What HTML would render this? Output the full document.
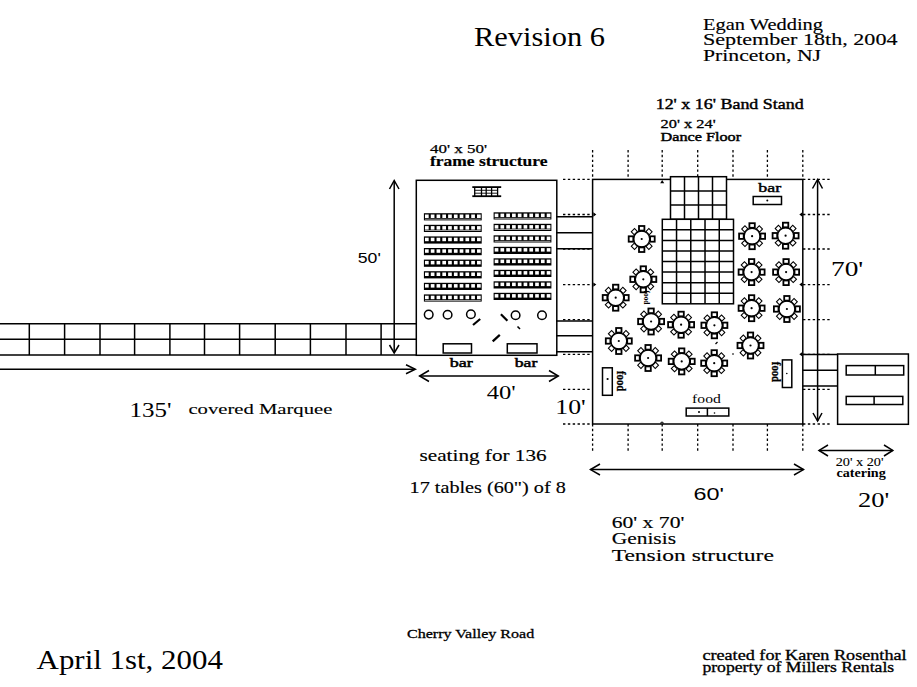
<!DOCTYPE html>
<html><head><meta charset="utf-8"><style>
html,body{margin:0;padding:0;background:#fff;}
body{width:917px;height:687px;overflow:hidden;}
svg{display:block;}
.s{stroke:#000;stroke-width:1.5;fill:none;}
.t{stroke:#000;stroke-width:1.1;fill:none;}
.f0{fill:#fff;}
.d{stroke:#000;stroke-width:1.3;stroke-dasharray:2.4 2.45;fill:none;}
text{fill:#000;}
</style></head><body>
<svg width="917" height="687" viewBox="0 0 917 687">
<line x1="0" y1="323.7" x2="416" y2="323.7" class="s"/>
<line x1="0" y1="339.3" x2="416" y2="339.3" class="s"/>
<line x1="0" y1="355.1" x2="416" y2="355.1" class="s"/>
<line x1="29.3" y1="323.7" x2="29.3" y2="355.1" class="s"/>
<line x1="64.6" y1="323.7" x2="64.6" y2="355.1" class="s"/>
<line x1="100" y1="323.7" x2="100" y2="355.1" class="s"/>
<line x1="134.6" y1="323.7" x2="134.6" y2="355.1" class="s"/>
<line x1="169.9" y1="323.7" x2="169.9" y2="355.1" class="s"/>
<line x1="204.5" y1="323.7" x2="204.5" y2="355.1" class="s"/>
<line x1="239.6" y1="323.7" x2="239.6" y2="355.1" class="s"/>
<line x1="275.2" y1="323.7" x2="275.2" y2="355.1" class="s"/>
<line x1="310.4" y1="323.7" x2="310.4" y2="355.1" class="s"/>
<line x1="346" y1="323.7" x2="346" y2="355.1" class="s"/>
<line x1="381.1" y1="323.7" x2="381.1" y2="355.1" class="s"/>
<line x1="0" y1="369.2" x2="415" y2="369.2" class="s"/>
<polyline points="406,364.7 415.3,369.2 406,373.7" class="s"/>
<line x1="394.2" y1="181" x2="394.2" y2="353" class="s"/>
<polyline points="389.5,189 394.2,180.5 399,189" class="s"/>
<polyline points="389.5,345 394.2,353 399,345" class="s"/>
<rect x="416.3" y="180.3" width="140.5" height="175" class="s f0"/>
<line x1="472.3" y1="187.1" x2="501.2" y2="187.1" stroke="#000" stroke-width="1.8"/>
<line x1="472.3" y1="196.2" x2="501.2" y2="196.2" stroke="#000" stroke-width="1.8"/>
<line x1="474.7" y1="187" x2="474.7" y2="196.3" stroke="#000" stroke-width="1.3"/>
<line x1="481.5" y1="187" x2="481.5" y2="196.3" stroke="#000" stroke-width="1.3"/>
<line x1="486.2" y1="187" x2="486.2" y2="196.3" stroke="#000" stroke-width="1.3"/>
<line x1="491.6" y1="187" x2="491.6" y2="196.3" stroke="#000" stroke-width="1.3"/>
<line x1="497.6" y1="187" x2="497.6" y2="196.3" stroke="#000" stroke-width="1.3"/>
<line x1="474.7" y1="190.3" x2="497.6" y2="190.3" stroke="#000" stroke-width="0.9"/>
<line x1="474.7" y1="193.2" x2="497.6" y2="193.2" stroke="#000" stroke-width="0.9"/>
<rect x="423.9" y="213.2" width="57.8" height="7.2" fill="#000"/>
<rect x="425.00" y="214.50" width="3.68" height="3.5" fill="#fff"/>
<rect x="430.78" y="214.50" width="3.68" height="3.5" fill="#fff"/>
<rect x="436.56" y="214.50" width="3.68" height="3.5" fill="#fff"/>
<rect x="442.34" y="214.50" width="3.68" height="3.5" fill="#fff"/>
<rect x="448.12" y="214.50" width="3.68" height="3.5" fill="#fff"/>
<rect x="453.90" y="214.50" width="3.68" height="3.5" fill="#fff"/>
<rect x="459.68" y="214.50" width="3.68" height="3.5" fill="#fff"/>
<rect x="465.46" y="214.50" width="3.68" height="3.5" fill="#fff"/>
<rect x="471.24" y="214.50" width="3.68" height="3.5" fill="#fff"/>
<rect x="477.02" y="214.50" width="3.68" height="3.5" fill="#fff"/>
<rect x="424.9" y="218.80" width="55.8" height="0.6" fill="#fff"/>
<rect x="493.6" y="212.3" width="57.8" height="7.2" fill="#000"/>
<rect x="494.70" y="213.60" width="3.68" height="3.5" fill="#fff"/>
<rect x="500.48" y="213.60" width="3.68" height="3.5" fill="#fff"/>
<rect x="506.26" y="213.60" width="3.68" height="3.5" fill="#fff"/>
<rect x="512.04" y="213.60" width="3.68" height="3.5" fill="#fff"/>
<rect x="517.82" y="213.60" width="3.68" height="3.5" fill="#fff"/>
<rect x="523.60" y="213.60" width="3.68" height="3.5" fill="#fff"/>
<rect x="529.38" y="213.60" width="3.68" height="3.5" fill="#fff"/>
<rect x="535.16" y="213.60" width="3.68" height="3.5" fill="#fff"/>
<rect x="540.94" y="213.60" width="3.68" height="3.5" fill="#fff"/>
<rect x="546.72" y="213.60" width="3.68" height="3.5" fill="#fff"/>
<rect x="494.6" y="217.90" width="55.8" height="0.6" fill="#fff"/>
<rect x="423.9" y="224.79999999999998" width="57.8" height="7.2" fill="#000"/>
<rect x="425.00" y="226.10" width="3.68" height="3.5" fill="#fff"/>
<rect x="430.78" y="226.10" width="3.68" height="3.5" fill="#fff"/>
<rect x="436.56" y="226.10" width="3.68" height="3.5" fill="#fff"/>
<rect x="442.34" y="226.10" width="3.68" height="3.5" fill="#fff"/>
<rect x="448.12" y="226.10" width="3.68" height="3.5" fill="#fff"/>
<rect x="453.90" y="226.10" width="3.68" height="3.5" fill="#fff"/>
<rect x="459.68" y="226.10" width="3.68" height="3.5" fill="#fff"/>
<rect x="465.46" y="226.10" width="3.68" height="3.5" fill="#fff"/>
<rect x="471.24" y="226.10" width="3.68" height="3.5" fill="#fff"/>
<rect x="477.02" y="226.10" width="3.68" height="3.5" fill="#fff"/>
<rect x="424.9" y="230.40" width="55.8" height="0.6" fill="#fff"/>
<rect x="493.6" y="223.8" width="57.8" height="7.2" fill="#000"/>
<rect x="494.70" y="225.10" width="3.68" height="3.5" fill="#fff"/>
<rect x="500.48" y="225.10" width="3.68" height="3.5" fill="#fff"/>
<rect x="506.26" y="225.10" width="3.68" height="3.5" fill="#fff"/>
<rect x="512.04" y="225.10" width="3.68" height="3.5" fill="#fff"/>
<rect x="517.82" y="225.10" width="3.68" height="3.5" fill="#fff"/>
<rect x="523.60" y="225.10" width="3.68" height="3.5" fill="#fff"/>
<rect x="529.38" y="225.10" width="3.68" height="3.5" fill="#fff"/>
<rect x="535.16" y="225.10" width="3.68" height="3.5" fill="#fff"/>
<rect x="540.94" y="225.10" width="3.68" height="3.5" fill="#fff"/>
<rect x="546.72" y="225.10" width="3.68" height="3.5" fill="#fff"/>
<rect x="494.6" y="229.40" width="55.8" height="0.6" fill="#fff"/>
<rect x="423.9" y="236.39999999999998" width="57.8" height="7.2" fill="#000"/>
<rect x="425.00" y="237.70" width="3.68" height="3.5" fill="#fff"/>
<rect x="430.78" y="237.70" width="3.68" height="3.5" fill="#fff"/>
<rect x="436.56" y="237.70" width="3.68" height="3.5" fill="#fff"/>
<rect x="442.34" y="237.70" width="3.68" height="3.5" fill="#fff"/>
<rect x="448.12" y="237.70" width="3.68" height="3.5" fill="#fff"/>
<rect x="453.90" y="237.70" width="3.68" height="3.5" fill="#fff"/>
<rect x="459.68" y="237.70" width="3.68" height="3.5" fill="#fff"/>
<rect x="465.46" y="237.70" width="3.68" height="3.5" fill="#fff"/>
<rect x="471.24" y="237.70" width="3.68" height="3.5" fill="#fff"/>
<rect x="477.02" y="237.70" width="3.68" height="3.5" fill="#fff"/>
<rect x="493.6" y="235.3" width="57.8" height="7.2" fill="#000"/>
<rect x="494.70" y="236.60" width="3.68" height="3.5" fill="#fff"/>
<rect x="500.48" y="236.60" width="3.68" height="3.5" fill="#fff"/>
<rect x="506.26" y="236.60" width="3.68" height="3.5" fill="#fff"/>
<rect x="512.04" y="236.60" width="3.68" height="3.5" fill="#fff"/>
<rect x="517.82" y="236.60" width="3.68" height="3.5" fill="#fff"/>
<rect x="523.60" y="236.60" width="3.68" height="3.5" fill="#fff"/>
<rect x="529.38" y="236.60" width="3.68" height="3.5" fill="#fff"/>
<rect x="535.16" y="236.60" width="3.68" height="3.5" fill="#fff"/>
<rect x="540.94" y="236.60" width="3.68" height="3.5" fill="#fff"/>
<rect x="546.72" y="236.60" width="3.68" height="3.5" fill="#fff"/>
<rect x="494.6" y="240.90" width="55.8" height="0.6" fill="#fff"/>
<rect x="423.9" y="248.0" width="57.8" height="7.2" fill="#000"/>
<rect x="425.00" y="249.30" width="3.68" height="3.5" fill="#fff"/>
<rect x="430.78" y="249.30" width="3.68" height="3.5" fill="#fff"/>
<rect x="436.56" y="249.30" width="3.68" height="3.5" fill="#fff"/>
<rect x="442.34" y="249.30" width="3.68" height="3.5" fill="#fff"/>
<rect x="448.12" y="249.30" width="3.68" height="3.5" fill="#fff"/>
<rect x="453.90" y="249.30" width="3.68" height="3.5" fill="#fff"/>
<rect x="459.68" y="249.30" width="3.68" height="3.5" fill="#fff"/>
<rect x="465.46" y="249.30" width="3.68" height="3.5" fill="#fff"/>
<rect x="471.24" y="249.30" width="3.68" height="3.5" fill="#fff"/>
<rect x="477.02" y="249.30" width="3.68" height="3.5" fill="#fff"/>
<rect x="493.6" y="246.8" width="57.8" height="7.2" fill="#000"/>
<rect x="494.70" y="248.10" width="3.68" height="3.5" fill="#fff"/>
<rect x="500.48" y="248.10" width="3.68" height="3.5" fill="#fff"/>
<rect x="506.26" y="248.10" width="3.68" height="3.5" fill="#fff"/>
<rect x="512.04" y="248.10" width="3.68" height="3.5" fill="#fff"/>
<rect x="517.82" y="248.10" width="3.68" height="3.5" fill="#fff"/>
<rect x="523.60" y="248.10" width="3.68" height="3.5" fill="#fff"/>
<rect x="529.38" y="248.10" width="3.68" height="3.5" fill="#fff"/>
<rect x="535.16" y="248.10" width="3.68" height="3.5" fill="#fff"/>
<rect x="540.94" y="248.10" width="3.68" height="3.5" fill="#fff"/>
<rect x="546.72" y="248.10" width="3.68" height="3.5" fill="#fff"/>
<rect x="423.9" y="259.59999999999997" width="57.8" height="7.2" fill="#000"/>
<rect x="425.00" y="260.90" width="3.68" height="3.5" fill="#fff"/>
<rect x="430.78" y="260.90" width="3.68" height="3.5" fill="#fff"/>
<rect x="436.56" y="260.90" width="3.68" height="3.5" fill="#fff"/>
<rect x="442.34" y="260.90" width="3.68" height="3.5" fill="#fff"/>
<rect x="448.12" y="260.90" width="3.68" height="3.5" fill="#fff"/>
<rect x="453.90" y="260.90" width="3.68" height="3.5" fill="#fff"/>
<rect x="459.68" y="260.90" width="3.68" height="3.5" fill="#fff"/>
<rect x="465.46" y="260.90" width="3.68" height="3.5" fill="#fff"/>
<rect x="471.24" y="260.90" width="3.68" height="3.5" fill="#fff"/>
<rect x="477.02" y="260.90" width="3.68" height="3.5" fill="#fff"/>
<rect x="493.6" y="258.3" width="57.8" height="7.2" fill="#000"/>
<rect x="494.70" y="259.60" width="3.68" height="3.5" fill="#fff"/>
<rect x="500.48" y="259.60" width="3.68" height="3.5" fill="#fff"/>
<rect x="506.26" y="259.60" width="3.68" height="3.5" fill="#fff"/>
<rect x="512.04" y="259.60" width="3.68" height="3.5" fill="#fff"/>
<rect x="517.82" y="259.60" width="3.68" height="3.5" fill="#fff"/>
<rect x="523.60" y="259.60" width="3.68" height="3.5" fill="#fff"/>
<rect x="529.38" y="259.60" width="3.68" height="3.5" fill="#fff"/>
<rect x="535.16" y="259.60" width="3.68" height="3.5" fill="#fff"/>
<rect x="540.94" y="259.60" width="3.68" height="3.5" fill="#fff"/>
<rect x="546.72" y="259.60" width="3.68" height="3.5" fill="#fff"/>
<rect x="423.9" y="271.2" width="57.8" height="7.2" fill="#000"/>
<rect x="425.00" y="272.50" width="3.68" height="3.5" fill="#fff"/>
<rect x="430.78" y="272.50" width="3.68" height="3.5" fill="#fff"/>
<rect x="436.56" y="272.50" width="3.68" height="3.5" fill="#fff"/>
<rect x="442.34" y="272.50" width="3.68" height="3.5" fill="#fff"/>
<rect x="448.12" y="272.50" width="3.68" height="3.5" fill="#fff"/>
<rect x="453.90" y="272.50" width="3.68" height="3.5" fill="#fff"/>
<rect x="459.68" y="272.50" width="3.68" height="3.5" fill="#fff"/>
<rect x="465.46" y="272.50" width="3.68" height="3.5" fill="#fff"/>
<rect x="471.24" y="272.50" width="3.68" height="3.5" fill="#fff"/>
<rect x="477.02" y="272.50" width="3.68" height="3.5" fill="#fff"/>
<rect x="493.6" y="269.8" width="57.8" height="7.2" fill="#000"/>
<rect x="494.70" y="271.10" width="3.68" height="3.5" fill="#fff"/>
<rect x="500.48" y="271.10" width="3.68" height="3.5" fill="#fff"/>
<rect x="506.26" y="271.10" width="3.68" height="3.5" fill="#fff"/>
<rect x="512.04" y="271.10" width="3.68" height="3.5" fill="#fff"/>
<rect x="517.82" y="271.10" width="3.68" height="3.5" fill="#fff"/>
<rect x="523.60" y="271.10" width="3.68" height="3.5" fill="#fff"/>
<rect x="529.38" y="271.10" width="3.68" height="3.5" fill="#fff"/>
<rect x="535.16" y="271.10" width="3.68" height="3.5" fill="#fff"/>
<rect x="540.94" y="271.10" width="3.68" height="3.5" fill="#fff"/>
<rect x="546.72" y="271.10" width="3.68" height="3.5" fill="#fff"/>
<rect x="423.9" y="282.79999999999995" width="57.8" height="7.2" fill="#000"/>
<rect x="425.00" y="284.10" width="3.68" height="3.5" fill="#fff"/>
<rect x="430.78" y="284.10" width="3.68" height="3.5" fill="#fff"/>
<rect x="436.56" y="284.10" width="3.68" height="3.5" fill="#fff"/>
<rect x="442.34" y="284.10" width="3.68" height="3.5" fill="#fff"/>
<rect x="448.12" y="284.10" width="3.68" height="3.5" fill="#fff"/>
<rect x="453.90" y="284.10" width="3.68" height="3.5" fill="#fff"/>
<rect x="459.68" y="284.10" width="3.68" height="3.5" fill="#fff"/>
<rect x="465.46" y="284.10" width="3.68" height="3.5" fill="#fff"/>
<rect x="471.24" y="284.10" width="3.68" height="3.5" fill="#fff"/>
<rect x="477.02" y="284.10" width="3.68" height="3.5" fill="#fff"/>
<rect x="493.6" y="281.3" width="57.8" height="7.2" fill="#000"/>
<rect x="494.70" y="282.60" width="3.68" height="3.5" fill="#fff"/>
<rect x="500.48" y="282.60" width="3.68" height="3.5" fill="#fff"/>
<rect x="506.26" y="282.60" width="3.68" height="3.5" fill="#fff"/>
<rect x="512.04" y="282.60" width="3.68" height="3.5" fill="#fff"/>
<rect x="517.82" y="282.60" width="3.68" height="3.5" fill="#fff"/>
<rect x="523.60" y="282.60" width="3.68" height="3.5" fill="#fff"/>
<rect x="529.38" y="282.60" width="3.68" height="3.5" fill="#fff"/>
<rect x="535.16" y="282.60" width="3.68" height="3.5" fill="#fff"/>
<rect x="540.94" y="282.60" width="3.68" height="3.5" fill="#fff"/>
<rect x="546.72" y="282.60" width="3.68" height="3.5" fill="#fff"/>
<rect x="423.9" y="294.4" width="57.8" height="7.2" fill="#000"/>
<rect x="425.00" y="295.70" width="3.68" height="3.5" fill="#fff"/>
<rect x="430.78" y="295.70" width="3.68" height="3.5" fill="#fff"/>
<rect x="436.56" y="295.70" width="3.68" height="3.5" fill="#fff"/>
<rect x="442.34" y="295.70" width="3.68" height="3.5" fill="#fff"/>
<rect x="448.12" y="295.70" width="3.68" height="3.5" fill="#fff"/>
<rect x="453.90" y="295.70" width="3.68" height="3.5" fill="#fff"/>
<rect x="459.68" y="295.70" width="3.68" height="3.5" fill="#fff"/>
<rect x="465.46" y="295.70" width="3.68" height="3.5" fill="#fff"/>
<rect x="471.24" y="295.70" width="3.68" height="3.5" fill="#fff"/>
<rect x="477.02" y="295.70" width="3.68" height="3.5" fill="#fff"/>
<rect x="424.9" y="300.00" width="55.8" height="0.6" fill="#fff"/>
<rect x="493.6" y="292.8" width="57.8" height="7.2" fill="#000"/>
<rect x="494.70" y="294.10" width="3.68" height="3.5" fill="#fff"/>
<rect x="500.48" y="294.10" width="3.68" height="3.5" fill="#fff"/>
<rect x="506.26" y="294.10" width="3.68" height="3.5" fill="#fff"/>
<rect x="512.04" y="294.10" width="3.68" height="3.5" fill="#fff"/>
<rect x="517.82" y="294.10" width="3.68" height="3.5" fill="#fff"/>
<rect x="523.60" y="294.10" width="3.68" height="3.5" fill="#fff"/>
<rect x="529.38" y="294.10" width="3.68" height="3.5" fill="#fff"/>
<rect x="535.16" y="294.10" width="3.68" height="3.5" fill="#fff"/>
<rect x="540.94" y="294.10" width="3.68" height="3.5" fill="#fff"/>
<rect x="546.72" y="294.10" width="3.68" height="3.5" fill="#fff"/>
<circle cx="428.7" cy="314.6" r="4.3" class="s f0"/>
<circle cx="447.6" cy="314.8" r="4.3" class="s f0"/>
<circle cx="470.9" cy="314.2" r="4.3" class="s f0"/>
<circle cx="515.6" cy="315.3" r="4.3" class="s f0"/>
<circle cx="542" cy="315.3" r="4.3" class="s f0"/>
<line x1="473" y1="325" x2="480.2" y2="319" stroke="#000" stroke-width="2.2"/>
<line x1="500.9" y1="314.2" x2="507.4" y2="320.7" stroke="#000" stroke-width="2.2"/>
<line x1="492.7" y1="341.4" x2="499.8" y2="334.9" stroke="#000" stroke-width="2.2"/>
<line x1="517.5" y1="326.5" x2="520" y2="329" stroke="#000" stroke-width="1.6"/>
<rect x="443.2" y="343.8" width="28.3" height="9.2" class="s f0"/>
<rect x="507.3" y="343.8" width="29.7" height="9.2" class="s f0"/>
<line x1="419.6" y1="376" x2="558.3" y2="376" class="s"/>
<polyline points="429,370.5 419.6,376 429,381.5" class="s"/>
<polyline points="549,370.5 558.3,376 549,381.5" class="s"/>
<line x1="556" y1="216.8" x2="592.5" y2="216.8" class="s"/>
<line x1="556" y1="232.7" x2="592.5" y2="232.7" class="s"/>
<line x1="556" y1="248.7" x2="592.5" y2="248.7" class="s"/>
<line x1="556" y1="321.0" x2="592.5" y2="321.0" class="s"/>
<line x1="556" y1="335.8" x2="592.5" y2="335.8" class="s"/>
<line x1="556" y1="351.8" x2="592.5" y2="351.8" class="s"/>
<rect x="592.6" y="179.4" width="210.2" height="244.6" class="s f0"/>
<line x1="592.6" y1="150" x2="592.6" y2="179" class="d"/>
<line x1="592.6" y1="424" x2="592.6" y2="453" class="d"/>
<line x1="628.1" y1="150" x2="628.1" y2="179" class="d"/>
<line x1="628.1" y1="424" x2="628.1" y2="453" class="d"/>
<line x1="662.2" y1="150" x2="662.2" y2="179" class="d"/>
<line x1="662.2" y1="424" x2="662.2" y2="453" class="d"/>
<line x1="697.7" y1="150" x2="697.7" y2="179" class="d"/>
<line x1="697.7" y1="424" x2="697.7" y2="453" class="d"/>
<line x1="733" y1="150" x2="733" y2="179" class="d"/>
<line x1="733" y1="424" x2="733" y2="453" class="d"/>
<line x1="767.4" y1="150" x2="767.4" y2="179" class="d"/>
<line x1="767.4" y1="424" x2="767.4" y2="453" class="d"/>
<line x1="802.8" y1="150" x2="802.8" y2="179" class="d"/>
<line x1="802.8" y1="424" x2="802.8" y2="453" class="d"/>
<line x1="563" y1="179.4" x2="592" y2="179.4" class="d"/>
<line x1="803" y1="179.4" x2="831" y2="179.4" class="d"/>
<line x1="563" y1="214.5" x2="592" y2="214.5" class="d"/>
<line x1="803" y1="214.5" x2="831" y2="214.5" class="d"/>
<line x1="563" y1="249" x2="592" y2="249" class="d"/>
<line x1="803" y1="249" x2="831" y2="249" class="d"/>
<line x1="563" y1="284.6" x2="592" y2="284.6" class="d"/>
<line x1="803" y1="284.6" x2="831" y2="284.6" class="d"/>
<line x1="563" y1="319.6" x2="592" y2="319.6" class="d"/>
<line x1="803" y1="319.6" x2="831" y2="319.6" class="d"/>
<line x1="563" y1="354.3" x2="592" y2="354.3" class="d"/>
<line x1="803" y1="354.3" x2="831" y2="354.3" class="d"/>
<line x1="563" y1="389.3" x2="592" y2="389.3" class="d"/>
<line x1="803" y1="389.3" x2="831" y2="389.3" class="d"/>
<line x1="563" y1="424" x2="592" y2="424" class="d"/>
<line x1="803" y1="424" x2="831" y2="424" class="d"/>
<rect x="670.5" y="176.7" width="56" height="42.6" class="s f0"/>
<line x1="684.50" y1="176.7" x2="684.50" y2="219.29999999999998" class="s"/>
<line x1="698.50" y1="176.7" x2="698.50" y2="219.29999999999998" class="s"/>
<line x1="712.50" y1="176.7" x2="712.50" y2="219.29999999999998" class="s"/>
<line x1="670.5" y1="190.90" x2="726.5" y2="190.90" class="s"/>
<line x1="670.5" y1="205.10" x2="726.5" y2="205.10" class="s"/>
<rect x="662.3" y="219.3" width="71.2" height="84.5" class="s f0"/>
<line x1="676.54" y1="219.3" x2="676.54" y2="303.8" class="s"/>
<line x1="690.78" y1="219.3" x2="690.78" y2="303.8" class="s"/>
<line x1="705.02" y1="219.3" x2="705.02" y2="303.8" class="s"/>
<line x1="719.26" y1="219.3" x2="719.26" y2="303.8" class="s"/>
<line x1="662.3" y1="229.86" x2="733.5" y2="229.86" class="s"/>
<line x1="662.3" y1="240.43" x2="733.5" y2="240.43" class="s"/>
<line x1="662.3" y1="250.99" x2="733.5" y2="250.99" class="s"/>
<line x1="662.3" y1="261.55" x2="733.5" y2="261.55" class="s"/>
<line x1="662.3" y1="272.11" x2="733.5" y2="272.11" class="s"/>
<line x1="662.3" y1="282.68" x2="733.5" y2="282.68" class="s"/>
<line x1="662.3" y1="293.24" x2="733.5" y2="293.24" class="s"/>
<g transform="translate(641.7,239)"><circle r="8.0" fill="#fff" stroke="#000" stroke-width="1.35"/><circle r="1.1" fill="#000"/><rect x="-2.7" y="-13.0" width="5.4" height="4.6" fill="#fff" stroke="#000" stroke-width="1.8" transform="rotate(0)"/><rect x="-2.3" y="-12.4" width="4.6" height="4.0" fill="#fff" stroke="#000" stroke-width="1.05" transform="rotate(45)"/><rect x="-2.7" y="-13.0" width="5.4" height="4.6" fill="#fff" stroke="#000" stroke-width="1.8" transform="rotate(90)"/><rect x="-2.3" y="-12.4" width="4.6" height="4.0" fill="#fff" stroke="#000" stroke-width="1.05" transform="rotate(135)"/><rect x="-2.7" y="-13.0" width="5.4" height="4.6" fill="#fff" stroke="#000" stroke-width="1.8" transform="rotate(180)"/><rect x="-2.3" y="-12.4" width="4.6" height="4.0" fill="#fff" stroke="#000" stroke-width="1.05" transform="rotate(225)"/><rect x="-2.7" y="-13.0" width="5.4" height="4.6" fill="#fff" stroke="#000" stroke-width="1.8" transform="rotate(270)"/><rect x="-2.3" y="-12.4" width="4.6" height="4.0" fill="#fff" stroke="#000" stroke-width="1.05" transform="rotate(315)"/></g>
<g transform="translate(643.3,279.3)"><circle r="8.0" fill="#fff" stroke="#000" stroke-width="1.35"/><circle r="1.1" fill="#000"/><rect x="-2.7" y="-13.0" width="5.4" height="4.6" fill="#fff" stroke="#000" stroke-width="1.8" transform="rotate(0)"/><rect x="-2.3" y="-12.4" width="4.6" height="4.0" fill="#fff" stroke="#000" stroke-width="1.05" transform="rotate(45)"/><rect x="-2.7" y="-13.0" width="5.4" height="4.6" fill="#fff" stroke="#000" stroke-width="1.8" transform="rotate(90)"/><rect x="-2.3" y="-12.4" width="4.6" height="4.0" fill="#fff" stroke="#000" stroke-width="1.05" transform="rotate(135)"/><rect x="-2.7" y="-13.0" width="5.4" height="4.6" fill="#fff" stroke="#000" stroke-width="1.8" transform="rotate(180)"/><rect x="-2.3" y="-12.4" width="4.6" height="4.0" fill="#fff" stroke="#000" stroke-width="1.05" transform="rotate(225)"/><rect x="-2.7" y="-13.0" width="5.4" height="4.6" fill="#fff" stroke="#000" stroke-width="1.8" transform="rotate(270)"/><rect x="-2.3" y="-12.4" width="4.6" height="4.0" fill="#fff" stroke="#000" stroke-width="1.05" transform="rotate(315)"/></g>
<g transform="translate(615.7,297.7)"><circle r="8.0" fill="#fff" stroke="#000" stroke-width="1.35"/><circle r="1.1" fill="#000"/><rect x="-2.7" y="-13.0" width="5.4" height="4.6" fill="#fff" stroke="#000" stroke-width="1.8" transform="rotate(0)"/><rect x="-2.3" y="-12.4" width="4.6" height="4.0" fill="#fff" stroke="#000" stroke-width="1.05" transform="rotate(45)"/><rect x="-2.7" y="-13.0" width="5.4" height="4.6" fill="#fff" stroke="#000" stroke-width="1.8" transform="rotate(90)"/><rect x="-2.3" y="-12.4" width="4.6" height="4.0" fill="#fff" stroke="#000" stroke-width="1.05" transform="rotate(135)"/><rect x="-2.7" y="-13.0" width="5.4" height="4.6" fill="#fff" stroke="#000" stroke-width="1.8" transform="rotate(180)"/><rect x="-2.3" y="-12.4" width="4.6" height="4.0" fill="#fff" stroke="#000" stroke-width="1.05" transform="rotate(225)"/><rect x="-2.7" y="-13.0" width="5.4" height="4.6" fill="#fff" stroke="#000" stroke-width="1.8" transform="rotate(270)"/><rect x="-2.3" y="-12.4" width="4.6" height="4.0" fill="#fff" stroke="#000" stroke-width="1.05" transform="rotate(315)"/></g>
<g transform="translate(651.1,321.5)"><circle r="8.0" fill="#fff" stroke="#000" stroke-width="1.35"/><circle r="1.1" fill="#000"/><rect x="-2.7" y="-13.0" width="5.4" height="4.6" fill="#fff" stroke="#000" stroke-width="1.8" transform="rotate(0)"/><rect x="-2.3" y="-12.4" width="4.6" height="4.0" fill="#fff" stroke="#000" stroke-width="1.05" transform="rotate(45)"/><rect x="-2.7" y="-13.0" width="5.4" height="4.6" fill="#fff" stroke="#000" stroke-width="1.8" transform="rotate(90)"/><rect x="-2.3" y="-12.4" width="4.6" height="4.0" fill="#fff" stroke="#000" stroke-width="1.05" transform="rotate(135)"/><rect x="-2.7" y="-13.0" width="5.4" height="4.6" fill="#fff" stroke="#000" stroke-width="1.8" transform="rotate(180)"/><rect x="-2.3" y="-12.4" width="4.6" height="4.0" fill="#fff" stroke="#000" stroke-width="1.05" transform="rotate(225)"/><rect x="-2.7" y="-13.0" width="5.4" height="4.6" fill="#fff" stroke="#000" stroke-width="1.8" transform="rotate(270)"/><rect x="-2.3" y="-12.4" width="4.6" height="4.0" fill="#fff" stroke="#000" stroke-width="1.05" transform="rotate(315)"/></g>
<g transform="translate(681.1,324.7)"><circle r="8.0" fill="#fff" stroke="#000" stroke-width="1.35"/><circle r="1.1" fill="#000"/><rect x="-2.7" y="-13.0" width="5.4" height="4.6" fill="#fff" stroke="#000" stroke-width="1.8" transform="rotate(0)"/><rect x="-2.3" y="-12.4" width="4.6" height="4.0" fill="#fff" stroke="#000" stroke-width="1.05" transform="rotate(45)"/><rect x="-2.7" y="-13.0" width="5.4" height="4.6" fill="#fff" stroke="#000" stroke-width="1.8" transform="rotate(90)"/><rect x="-2.3" y="-12.4" width="4.6" height="4.0" fill="#fff" stroke="#000" stroke-width="1.05" transform="rotate(135)"/><rect x="-2.7" y="-13.0" width="5.4" height="4.6" fill="#fff" stroke="#000" stroke-width="1.8" transform="rotate(180)"/><rect x="-2.3" y="-12.4" width="4.6" height="4.0" fill="#fff" stroke="#000" stroke-width="1.05" transform="rotate(225)"/><rect x="-2.7" y="-13.0" width="5.4" height="4.6" fill="#fff" stroke="#000" stroke-width="1.8" transform="rotate(270)"/><rect x="-2.3" y="-12.4" width="4.6" height="4.0" fill="#fff" stroke="#000" stroke-width="1.05" transform="rotate(315)"/></g>
<g transform="translate(618.8,341)"><circle r="8.0" fill="#fff" stroke="#000" stroke-width="1.35"/><circle r="1.1" fill="#000"/><rect x="-2.7" y="-13.0" width="5.4" height="4.6" fill="#fff" stroke="#000" stroke-width="1.8" transform="rotate(0)"/><rect x="-2.3" y="-12.4" width="4.6" height="4.0" fill="#fff" stroke="#000" stroke-width="1.05" transform="rotate(45)"/><rect x="-2.7" y="-13.0" width="5.4" height="4.6" fill="#fff" stroke="#000" stroke-width="1.8" transform="rotate(90)"/><rect x="-2.3" y="-12.4" width="4.6" height="4.0" fill="#fff" stroke="#000" stroke-width="1.05" transform="rotate(135)"/><rect x="-2.7" y="-13.0" width="5.4" height="4.6" fill="#fff" stroke="#000" stroke-width="1.8" transform="rotate(180)"/><rect x="-2.3" y="-12.4" width="4.6" height="4.0" fill="#fff" stroke="#000" stroke-width="1.05" transform="rotate(225)"/><rect x="-2.7" y="-13.0" width="5.4" height="4.6" fill="#fff" stroke="#000" stroke-width="1.8" transform="rotate(270)"/><rect x="-2.3" y="-12.4" width="4.6" height="4.0" fill="#fff" stroke="#000" stroke-width="1.05" transform="rotate(315)"/></g>
<g transform="translate(648.1,358)"><circle r="8.0" fill="#fff" stroke="#000" stroke-width="1.35"/><circle r="1.1" fill="#000"/><rect x="-2.7" y="-13.0" width="5.4" height="4.6" fill="#fff" stroke="#000" stroke-width="1.8" transform="rotate(0)"/><rect x="-2.3" y="-12.4" width="4.6" height="4.0" fill="#fff" stroke="#000" stroke-width="1.05" transform="rotate(45)"/><rect x="-2.7" y="-13.0" width="5.4" height="4.6" fill="#fff" stroke="#000" stroke-width="1.8" transform="rotate(90)"/><rect x="-2.3" y="-12.4" width="4.6" height="4.0" fill="#fff" stroke="#000" stroke-width="1.05" transform="rotate(135)"/><rect x="-2.7" y="-13.0" width="5.4" height="4.6" fill="#fff" stroke="#000" stroke-width="1.8" transform="rotate(180)"/><rect x="-2.3" y="-12.4" width="4.6" height="4.0" fill="#fff" stroke="#000" stroke-width="1.05" transform="rotate(225)"/><rect x="-2.7" y="-13.0" width="5.4" height="4.6" fill="#fff" stroke="#000" stroke-width="1.8" transform="rotate(270)"/><rect x="-2.3" y="-12.4" width="4.6" height="4.0" fill="#fff" stroke="#000" stroke-width="1.05" transform="rotate(315)"/></g>
<g transform="translate(681.7,361.4)"><circle r="8.0" fill="#fff" stroke="#000" stroke-width="1.35"/><circle r="1.1" fill="#000"/><rect x="-2.7" y="-13.0" width="5.4" height="4.6" fill="#fff" stroke="#000" stroke-width="1.8" transform="rotate(0)"/><rect x="-2.3" y="-12.4" width="4.6" height="4.0" fill="#fff" stroke="#000" stroke-width="1.05" transform="rotate(45)"/><rect x="-2.7" y="-13.0" width="5.4" height="4.6" fill="#fff" stroke="#000" stroke-width="1.8" transform="rotate(90)"/><rect x="-2.3" y="-12.4" width="4.6" height="4.0" fill="#fff" stroke="#000" stroke-width="1.05" transform="rotate(135)"/><rect x="-2.7" y="-13.0" width="5.4" height="4.6" fill="#fff" stroke="#000" stroke-width="1.8" transform="rotate(180)"/><rect x="-2.3" y="-12.4" width="4.6" height="4.0" fill="#fff" stroke="#000" stroke-width="1.05" transform="rotate(225)"/><rect x="-2.7" y="-13.0" width="5.4" height="4.6" fill="#fff" stroke="#000" stroke-width="1.8" transform="rotate(270)"/><rect x="-2.3" y="-12.4" width="4.6" height="4.0" fill="#fff" stroke="#000" stroke-width="1.05" transform="rotate(315)"/></g>
<g transform="translate(752.1,236.2)"><circle r="8.0" fill="#fff" stroke="#000" stroke-width="1.35"/><circle r="1.1" fill="#000"/><rect x="-2.7" y="-13.0" width="5.4" height="4.6" fill="#fff" stroke="#000" stroke-width="1.8" transform="rotate(0)"/><rect x="-2.3" y="-12.4" width="4.6" height="4.0" fill="#fff" stroke="#000" stroke-width="1.05" transform="rotate(45)"/><rect x="-2.7" y="-13.0" width="5.4" height="4.6" fill="#fff" stroke="#000" stroke-width="1.8" transform="rotate(90)"/><rect x="-2.3" y="-12.4" width="4.6" height="4.0" fill="#fff" stroke="#000" stroke-width="1.05" transform="rotate(135)"/><rect x="-2.7" y="-13.0" width="5.4" height="4.6" fill="#fff" stroke="#000" stroke-width="1.8" transform="rotate(180)"/><rect x="-2.3" y="-12.4" width="4.6" height="4.0" fill="#fff" stroke="#000" stroke-width="1.05" transform="rotate(225)"/><rect x="-2.7" y="-13.0" width="5.4" height="4.6" fill="#fff" stroke="#000" stroke-width="1.8" transform="rotate(270)"/><rect x="-2.3" y="-12.4" width="4.6" height="4.0" fill="#fff" stroke="#000" stroke-width="1.05" transform="rotate(315)"/></g>
<g transform="translate(785.6,235.7)"><circle r="8.0" fill="#fff" stroke="#000" stroke-width="1.35"/><circle r="1.1" fill="#000"/><rect x="-2.7" y="-13.0" width="5.4" height="4.6" fill="#fff" stroke="#000" stroke-width="1.8" transform="rotate(0)"/><rect x="-2.3" y="-12.4" width="4.6" height="4.0" fill="#fff" stroke="#000" stroke-width="1.05" transform="rotate(45)"/><rect x="-2.7" y="-13.0" width="5.4" height="4.6" fill="#fff" stroke="#000" stroke-width="1.8" transform="rotate(90)"/><rect x="-2.3" y="-12.4" width="4.6" height="4.0" fill="#fff" stroke="#000" stroke-width="1.05" transform="rotate(135)"/><rect x="-2.7" y="-13.0" width="5.4" height="4.6" fill="#fff" stroke="#000" stroke-width="1.8" transform="rotate(180)"/><rect x="-2.3" y="-12.4" width="4.6" height="4.0" fill="#fff" stroke="#000" stroke-width="1.05" transform="rotate(225)"/><rect x="-2.7" y="-13.0" width="5.4" height="4.6" fill="#fff" stroke="#000" stroke-width="1.8" transform="rotate(270)"/><rect x="-2.3" y="-12.4" width="4.6" height="4.0" fill="#fff" stroke="#000" stroke-width="1.05" transform="rotate(315)"/></g>
<g transform="translate(751.6,272.1)"><circle r="8.0" fill="#fff" stroke="#000" stroke-width="1.35"/><circle r="1.1" fill="#000"/><rect x="-2.7" y="-13.0" width="5.4" height="4.6" fill="#fff" stroke="#000" stroke-width="1.8" transform="rotate(0)"/><rect x="-2.3" y="-12.4" width="4.6" height="4.0" fill="#fff" stroke="#000" stroke-width="1.05" transform="rotate(45)"/><rect x="-2.7" y="-13.0" width="5.4" height="4.6" fill="#fff" stroke="#000" stroke-width="1.8" transform="rotate(90)"/><rect x="-2.3" y="-12.4" width="4.6" height="4.0" fill="#fff" stroke="#000" stroke-width="1.05" transform="rotate(135)"/><rect x="-2.7" y="-13.0" width="5.4" height="4.6" fill="#fff" stroke="#000" stroke-width="1.8" transform="rotate(180)"/><rect x="-2.3" y="-12.4" width="4.6" height="4.0" fill="#fff" stroke="#000" stroke-width="1.05" transform="rotate(225)"/><rect x="-2.7" y="-13.0" width="5.4" height="4.6" fill="#fff" stroke="#000" stroke-width="1.8" transform="rotate(270)"/><rect x="-2.3" y="-12.4" width="4.6" height="4.0" fill="#fff" stroke="#000" stroke-width="1.05" transform="rotate(315)"/></g>
<g transform="translate(786.1,272.1)"><circle r="8.0" fill="#fff" stroke="#000" stroke-width="1.35"/><circle r="1.1" fill="#000"/><rect x="-2.7" y="-13.0" width="5.4" height="4.6" fill="#fff" stroke="#000" stroke-width="1.8" transform="rotate(0)"/><rect x="-2.3" y="-12.4" width="4.6" height="4.0" fill="#fff" stroke="#000" stroke-width="1.05" transform="rotate(45)"/><rect x="-2.7" y="-13.0" width="5.4" height="4.6" fill="#fff" stroke="#000" stroke-width="1.8" transform="rotate(90)"/><rect x="-2.3" y="-12.4" width="4.6" height="4.0" fill="#fff" stroke="#000" stroke-width="1.05" transform="rotate(135)"/><rect x="-2.7" y="-13.0" width="5.4" height="4.6" fill="#fff" stroke="#000" stroke-width="1.8" transform="rotate(180)"/><rect x="-2.3" y="-12.4" width="4.6" height="4.0" fill="#fff" stroke="#000" stroke-width="1.05" transform="rotate(225)"/><rect x="-2.7" y="-13.0" width="5.4" height="4.6" fill="#fff" stroke="#000" stroke-width="1.8" transform="rotate(270)"/><rect x="-2.3" y="-12.4" width="4.6" height="4.0" fill="#fff" stroke="#000" stroke-width="1.05" transform="rotate(315)"/></g>
<g transform="translate(751.6,308.2)"><circle r="8.0" fill="#fff" stroke="#000" stroke-width="1.35"/><circle r="1.1" fill="#000"/><rect x="-2.7" y="-13.0" width="5.4" height="4.6" fill="#fff" stroke="#000" stroke-width="1.8" transform="rotate(0)"/><rect x="-2.3" y="-12.4" width="4.6" height="4.0" fill="#fff" stroke="#000" stroke-width="1.05" transform="rotate(45)"/><rect x="-2.7" y="-13.0" width="5.4" height="4.6" fill="#fff" stroke="#000" stroke-width="1.8" transform="rotate(90)"/><rect x="-2.3" y="-12.4" width="4.6" height="4.0" fill="#fff" stroke="#000" stroke-width="1.05" transform="rotate(135)"/><rect x="-2.7" y="-13.0" width="5.4" height="4.6" fill="#fff" stroke="#000" stroke-width="1.8" transform="rotate(180)"/><rect x="-2.3" y="-12.4" width="4.6" height="4.0" fill="#fff" stroke="#000" stroke-width="1.05" transform="rotate(225)"/><rect x="-2.7" y="-13.0" width="5.4" height="4.6" fill="#fff" stroke="#000" stroke-width="1.8" transform="rotate(270)"/><rect x="-2.3" y="-12.4" width="4.6" height="4.0" fill="#fff" stroke="#000" stroke-width="1.05" transform="rotate(315)"/></g>
<g transform="translate(786.9,309)"><circle r="8.0" fill="#fff" stroke="#000" stroke-width="1.35"/><circle r="1.1" fill="#000"/><rect x="-2.7" y="-13.0" width="5.4" height="4.6" fill="#fff" stroke="#000" stroke-width="1.8" transform="rotate(0)"/><rect x="-2.3" y="-12.4" width="4.6" height="4.0" fill="#fff" stroke="#000" stroke-width="1.05" transform="rotate(45)"/><rect x="-2.7" y="-13.0" width="5.4" height="4.6" fill="#fff" stroke="#000" stroke-width="1.8" transform="rotate(90)"/><rect x="-2.3" y="-12.4" width="4.6" height="4.0" fill="#fff" stroke="#000" stroke-width="1.05" transform="rotate(135)"/><rect x="-2.7" y="-13.0" width="5.4" height="4.6" fill="#fff" stroke="#000" stroke-width="1.8" transform="rotate(180)"/><rect x="-2.3" y="-12.4" width="4.6" height="4.0" fill="#fff" stroke="#000" stroke-width="1.05" transform="rotate(225)"/><rect x="-2.7" y="-13.0" width="5.4" height="4.6" fill="#fff" stroke="#000" stroke-width="1.8" transform="rotate(270)"/><rect x="-2.3" y="-12.4" width="4.6" height="4.0" fill="#fff" stroke="#000" stroke-width="1.05" transform="rotate(315)"/></g>
<g transform="translate(714.4,325.3)"><circle r="8.0" fill="#fff" stroke="#000" stroke-width="1.35"/><circle r="1.1" fill="#000"/><rect x="-2.7" y="-13.0" width="5.4" height="4.6" fill="#fff" stroke="#000" stroke-width="1.8" transform="rotate(0)"/><rect x="-2.3" y="-12.4" width="4.6" height="4.0" fill="#fff" stroke="#000" stroke-width="1.05" transform="rotate(45)"/><rect x="-2.7" y="-13.0" width="5.4" height="4.6" fill="#fff" stroke="#000" stroke-width="1.8" transform="rotate(90)"/><rect x="-2.3" y="-12.4" width="4.6" height="4.0" fill="#fff" stroke="#000" stroke-width="1.05" transform="rotate(135)"/><rect x="-2.7" y="-13.0" width="5.4" height="4.6" fill="#fff" stroke="#000" stroke-width="1.8" transform="rotate(180)"/><rect x="-2.3" y="-12.4" width="4.6" height="4.0" fill="#fff" stroke="#000" stroke-width="1.05" transform="rotate(225)"/><rect x="-2.7" y="-13.0" width="5.4" height="4.6" fill="#fff" stroke="#000" stroke-width="1.8" transform="rotate(270)"/><rect x="-2.3" y="-12.4" width="4.6" height="4.0" fill="#fff" stroke="#000" stroke-width="1.05" transform="rotate(315)"/></g>
<g transform="translate(750.5,345.5)"><circle r="8.0" fill="#fff" stroke="#000" stroke-width="1.35"/><circle r="1.1" fill="#000"/><rect x="-2.7" y="-13.0" width="5.4" height="4.6" fill="#fff" stroke="#000" stroke-width="1.8" transform="rotate(0)"/><rect x="-2.3" y="-12.4" width="4.6" height="4.0" fill="#fff" stroke="#000" stroke-width="1.05" transform="rotate(45)"/><rect x="-2.7" y="-13.0" width="5.4" height="4.6" fill="#fff" stroke="#000" stroke-width="1.8" transform="rotate(90)"/><rect x="-2.3" y="-12.4" width="4.6" height="4.0" fill="#fff" stroke="#000" stroke-width="1.05" transform="rotate(135)"/><rect x="-2.7" y="-13.0" width="5.4" height="4.6" fill="#fff" stroke="#000" stroke-width="1.8" transform="rotate(180)"/><rect x="-2.3" y="-12.4" width="4.6" height="4.0" fill="#fff" stroke="#000" stroke-width="1.05" transform="rotate(225)"/><rect x="-2.7" y="-13.0" width="5.4" height="4.6" fill="#fff" stroke="#000" stroke-width="1.8" transform="rotate(270)"/><rect x="-2.3" y="-12.4" width="4.6" height="4.0" fill="#fff" stroke="#000" stroke-width="1.05" transform="rotate(315)"/></g>
<g transform="translate(714.2,363.2)"><circle r="8.0" fill="#fff" stroke="#000" stroke-width="1.35"/><circle r="1.1" fill="#000"/><rect x="-2.7" y="-13.0" width="5.4" height="4.6" fill="#fff" stroke="#000" stroke-width="1.8" transform="rotate(0)"/><rect x="-2.3" y="-12.4" width="4.6" height="4.0" fill="#fff" stroke="#000" stroke-width="1.05" transform="rotate(45)"/><rect x="-2.7" y="-13.0" width="5.4" height="4.6" fill="#fff" stroke="#000" stroke-width="1.8" transform="rotate(90)"/><rect x="-2.3" y="-12.4" width="4.6" height="4.0" fill="#fff" stroke="#000" stroke-width="1.05" transform="rotate(135)"/><rect x="-2.7" y="-13.0" width="5.4" height="4.6" fill="#fff" stroke="#000" stroke-width="1.8" transform="rotate(180)"/><rect x="-2.3" y="-12.4" width="4.6" height="4.0" fill="#fff" stroke="#000" stroke-width="1.05" transform="rotate(225)"/><rect x="-2.7" y="-13.0" width="5.4" height="4.6" fill="#fff" stroke="#000" stroke-width="1.8" transform="rotate(270)"/><rect x="-2.3" y="-12.4" width="4.6" height="4.0" fill="#fff" stroke="#000" stroke-width="1.05" transform="rotate(315)"/></g>
<rect x="753.2" y="196.5" width="28.3" height="8" class="s f0"/>
<circle cx="767.3" cy="200.5" r="1" fill="#000"/>
<rect x="602.5" y="367.8" width="9.8" height="27.5" class="s f0"/>
<circle cx="607.6" cy="379" r="1.1" fill="#000"/>
<rect x="782.4" y="359.9" width="9.4" height="27.6" class="s f0"/>
<circle cx="786.8" cy="373.5" r="0.8" fill="#000"/>
<rect x="686.2" y="408.1" width="42.6" height="7.9" class="s f0"/>
<line x1="707.4" y1="408.1" x2="707.4" y2="416" class="s"/>
<circle cx="699" cy="412" r="1" fill="#000"/>
<circle cx="714.5" cy="413" r="0.8" fill="#000"/>
<line x1="817.6" y1="180" x2="817.6" y2="421" class="s"/>
<polyline points="812.5,188.5 817.6,179.5 822.5,188.5" class="s"/>
<polyline points="813,413 817.6,421 822,413" class="s"/>
<line x1="590.5" y1="469.6" x2="803.5" y2="469.6" class="s"/>
<polyline points="600,464 590.5,469.6 600,475" class="s"/>
<polyline points="794,464 803.5,469.6 794,475" class="s"/>
<line x1="802.8" y1="354.5" x2="837.6" y2="354.5" class="s"/>
<line x1="802.8" y1="370.3" x2="837.6" y2="370.3" class="s"/>
<line x1="802.8" y1="385.9" x2="837.6" y2="385.9" class="s"/>
<rect x="837.6" y="354" width="70.8" height="70.3" class="s f0"/>
<rect x="846.2" y="365.6" width="57.5" height="9.4" class="s f0"/>
<line x1="875.3" y1="365.6" x2="875.3" y2="375" class="s"/>
<rect x="846.2" y="396.4" width="56.6" height="8.1" class="s f0"/>
<line x1="874.1" y1="396.4" x2="874.1" y2="404.5" class="s"/>
<line x1="819" y1="450.4" x2="892.8" y2="450.4" class="s"/>
<polyline points="828,445 819,450.4 828,456" class="s"/>
<polyline points="884,445 892.8,450.4 884,456" class="s"/>
<polygon points="593.3,212.3 596.3,214.5 593.3,216.7" fill="#000"/>
<polygon points="593.3,282.40000000000003 596.3,284.6 593.3,286.8" fill="#000"/>
<polygon points="802,212.5 799.3,214.5 802,216.5" fill="#000"/>
<polygon points="802,282.6 799.3,284.6 802,286.6" fill="#000"/>
<polygon points="802,352.3 799.3,354.3 802,356.3" fill="#000"/>
<polygon points="660.2,183.3 662.2,180 664.2,183.3" fill="#000"/>
<path d="M660.5,423.5 q1.5,-3 3,0" class="t"/>
<text font-family="Liberation Serif" font-size="8" font-weight="bold" textLength="14" lengthAdjust="spacingAndGlyphs" transform="translate(644.2,290.5) rotate(90)">food</text>
<line x1="715.5" y1="344" x2="717.5" y2="342" stroke="#000" stroke-width="1.2"/>
<line x1="732" y1="354" x2="734" y2="354" stroke="#000" stroke-width="1"/>
<text x="474" y="45.8" font-family="Liberation Serif" font-size="27" font-weight="normal" textLength="131" lengthAdjust="spacingAndGlyphs">Revision 6</text>
<text x="703" y="30.2" font-family="Liberation Serif" font-size="17" font-weight="normal" textLength="120" lengthAdjust="spacingAndGlyphs" stroke="#000" stroke-width="0.15">Egan Wedding</text>
<text x="703" y="44.6" font-family="Liberation Serif" font-size="17" font-weight="normal" textLength="194.5" lengthAdjust="spacingAndGlyphs" stroke="#000" stroke-width="0.15">September 18th, 2004</text>
<text x="703" y="60.7" font-family="Liberation Serif" font-size="17" font-weight="normal" textLength="118" lengthAdjust="spacingAndGlyphs" stroke="#000" stroke-width="0.15">Princeton, NJ</text>
<text x="655.7" y="108.6" font-family="Liberation Serif" font-size="14.5" font-weight="normal" textLength="148" lengthAdjust="spacingAndGlyphs" stroke="#000" stroke-width="0.42">12' x 16' Band Stand</text>
<text x="660.6" y="128.3" font-family="Liberation Serif" font-size="13" font-weight="normal" textLength="55" lengthAdjust="spacingAndGlyphs" stroke="#000" stroke-width="0.3">20' x 24'</text>
<text x="660.6" y="140.6" font-family="Liberation Serif" font-size="13" font-weight="normal" textLength="80.5" lengthAdjust="spacingAndGlyphs" stroke="#000" stroke-width="0.45">Dance Floor</text>
<text x="430" y="152.6" font-family="Liberation Serif" font-size="13" font-weight="normal" textLength="57" lengthAdjust="spacingAndGlyphs" stroke="#000" stroke-width="0.25">40' x 50'</text>
<text x="430" y="165.5" font-family="Liberation Serif" font-size="14" font-weight="bold" textLength="117.5" lengthAdjust="spacingAndGlyphs" stroke="#000" stroke-width="0.2">frame structure</text>
<text x="357.8" y="263.4" font-family="Liberation Sans" font-size="14" font-weight="normal" textLength="23" lengthAdjust="spacingAndGlyphs">50'</text>
<text x="449.8" y="367" font-family="Liberation Serif" font-size="12.5" font-weight="normal" textLength="23" lengthAdjust="spacingAndGlyphs" stroke="#000" stroke-width="0.5">bar</text>
<text x="514.8" y="367" font-family="Liberation Serif" font-size="12.5" font-weight="normal" textLength="22.5" lengthAdjust="spacingAndGlyphs" stroke="#000" stroke-width="0.5">bar</text>
<text x="486.8" y="398.7" font-family="Liberation Serif" font-size="19" font-weight="normal" textLength="29" lengthAdjust="spacingAndGlyphs">40'</text>
<text x="129.5" y="416.9" font-family="Liberation Serif" font-size="20" font-weight="normal" textLength="42" lengthAdjust="spacingAndGlyphs">135'</text>
<text x="188.4" y="413.5" font-family="Liberation Serif" font-size="15.5" font-weight="normal" textLength="144" lengthAdjust="spacingAndGlyphs" stroke="#000" stroke-width="0.12">covered Marquee</text>
<text x="555.3" y="414.4" font-family="Liberation Serif" font-size="21" font-weight="normal" textLength="30.4" lengthAdjust="spacingAndGlyphs">10'</text>
<text x="419.6" y="460.6" font-family="Liberation Serif" font-size="16" font-weight="normal" textLength="127" lengthAdjust="spacingAndGlyphs" stroke="#000" stroke-width="0.15">seating for 136</text>
<text x="409.6" y="493.4" font-family="Liberation Serif" font-size="16" font-weight="normal" textLength="156.2" lengthAdjust="spacingAndGlyphs" stroke="#000" stroke-width="0.15">17 tables (60&quot;) of 8</text>
<text x="693.5" y="500" font-family="Liberation Sans" font-size="17" font-weight="normal" textLength="30.5" lengthAdjust="spacingAndGlyphs">60'</text>
<text x="611.7" y="527.6" font-family="Liberation Serif" font-size="16.5" font-weight="normal" textLength="72.7" lengthAdjust="spacingAndGlyphs" stroke="#000" stroke-width="0.15">60' x 70'</text>
<text x="611.7" y="543.7" font-family="Liberation Serif" font-size="16.5" font-weight="normal" textLength="64.3" lengthAdjust="spacingAndGlyphs" stroke="#000" stroke-width="0.15">Genisis</text>
<text x="611.7" y="560.7" font-family="Liberation Serif" font-size="16.5" font-weight="normal" textLength="162.2" lengthAdjust="spacingAndGlyphs" stroke="#000" stroke-width="0.15">Tension structure</text>
<text x="831" y="276" font-family="Liberation Serif" font-size="20" font-weight="normal" textLength="32.3" lengthAdjust="spacingAndGlyphs">70'</text>
<text x="858" y="506.9" font-family="Liberation Serif" font-size="21" font-weight="normal" textLength="31.3" lengthAdjust="spacingAndGlyphs">20'</text>
<text x="835.7" y="466.3" font-family="Liberation Serif" font-size="12" font-weight="normal" textLength="47.8" lengthAdjust="spacingAndGlyphs" stroke="#000" stroke-width="0.1">20' x 20'</text>
<text x="836.4" y="476.5" font-family="Liberation Serif" font-size="12" font-weight="bold" textLength="49.4" lengthAdjust="spacingAndGlyphs">catering</text>
<text x="407" y="637.6" font-family="Liberation Serif" font-size="13" font-weight="normal" textLength="127.2" lengthAdjust="spacingAndGlyphs" stroke="#000" stroke-width="0.3">Cherry Valley Road</text>
<text x="36.6" y="669" font-family="Liberation Serif" font-size="27" font-weight="normal" textLength="186.3" lengthAdjust="spacingAndGlyphs">April 1st, 2004</text>
<text x="702.4" y="660.3" font-family="Liberation Serif" font-size="14" font-weight="normal" textLength="204.2" lengthAdjust="spacingAndGlyphs" stroke="#000" stroke-width="0.3">created for Karen Rosenthal</text>
<text x="702.4" y="672.2" font-family="Liberation Serif" font-size="14" font-weight="normal" textLength="191.8" lengthAdjust="spacingAndGlyphs" stroke="#000" stroke-width="0.3">property of Millers Rentals</text>
<text x="758.3" y="192" font-family="Liberation Serif" font-size="12.5" font-weight="normal" textLength="22.9" lengthAdjust="spacingAndGlyphs" stroke="#000" stroke-width="0.4">bar</text>
<text x="692.1" y="402.5" font-family="Liberation Serif" font-size="13" font-weight="normal" textLength="28.7" lengthAdjust="spacingAndGlyphs">food</text>
<text font-family="Liberation Serif" font-size="12" font-weight="bold" textLength="20.3" lengthAdjust="spacingAndGlyphs" stroke="#000" stroke-width="0.3" transform="translate(617.3,371) rotate(90)">food</text>
<text font-family="Liberation Serif" font-size="12" font-weight="bold" textLength="20.3" lengthAdjust="spacingAndGlyphs" stroke="#000" stroke-width="0.3" transform="translate(771.8,361.8) rotate(90)">food</text>
</svg>
</body></html>
